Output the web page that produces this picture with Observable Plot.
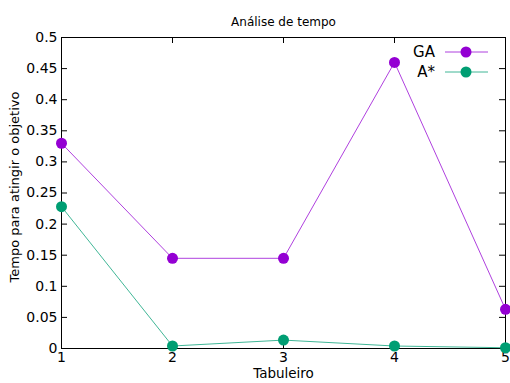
<!DOCTYPE html>
<html>
<head>
<meta charset="utf-8">
<script src="https://cdn.jsdelivr.net/npm/d3@7"></script>
<script src="https://cdn.jsdelivr.net/npm/@observablehq/plot@0.6"></script>
<style>
  html, body { margin: 0; padding: 0; background: #fff; }
  #wrap { position: relative; width: 510px; height: 383px; font-family: "DejaVu Sans", sans-serif; }
  #legend { position: absolute; left: 0; top: 0; width: 510px; height: 383px; pointer-events: none; }
</style>
</head>
<body>
<div id="wrap"></div>
<script>
const tabuleiros = [1, 2, 3, 4, 5];
const gaValues = [0.33, 0.145, 0.145, 0.46, 0.063];
const aStarValues = [0.228, 0.004, 0.0135, 0.004, 0.0012];
const seriesNames = ["GA", "A*"];
const seriesColors = ["#9400d3", "#009e73"];
const yTicks = [0, 0.05, 0.1, 0.15, 0.2, 0.25, 0.3, 0.35, 0.4, 0.45, 0.5];
const xTicks = [1, 2, 3, 4, 5];
const title = "Análise de tempo";
const xLabel = "Tabuleiro";
const yLabel = "Tempo para atingir o objetivo";

const data = [];
tabuleiros.forEach((t, i) => {
  data.push({series: seriesNames[0], x: t, y: gaValues[i]});
  data.push({series: seriesNames[1], x: t, y: aStarValues[i]});
});

const W = 510, H = 383;
const mL = 61, mR = 5, mT = 37, mB = 35;
const fw = W - mL - mR, fh = H - mT - mB;
const tickFmt = d => String(+d.toFixed(2));
const tk = 6;

const chart = Plot.plot({
  width: W, height: H,
  marginLeft: mL, marginRight: mR, marginTop: mT, marginBottom: mB,
  style: {fontFamily: "DejaVu Sans, sans-serif", background: "#fff", overflow: "visible"},
  x: {domain: [1, 5]},
  y: {domain: [0, 0.5]},
  color: {domain: seriesNames, range: seriesColors},
  marks: [
    // tick labels
    Plot.axisY({ticks: yTicks, tickSize: 0, tickPadding: 4, tickFormat: tickFmt, fontSize: 14, fill: "#000", label: null}),
    Plot.axisX({ticks: xTicks, tickSize: 0, tickPadding: 4, tickFormat: d => String(d), fontSize: 14, fill: "#000", label: null}),
    // inward ticks, mirrored on all four sides
    Plot.tickY(yTicks, {y: d => d, insetRight: fw - tk, stroke: "#000"}),
    Plot.tickY(yTicks, {y: d => d, insetLeft: fw - tk, stroke: "#000"}),
    Plot.tickX(xTicks, {x: d => d, insetTop: fh - tk, stroke: "#000"}),
    Plot.tickX(xTicks, {x: d => d, insetBottom: fh - tk, stroke: "#000"}),
    Plot.frame({stroke: "#000", strokeWidth: 1}),
    Plot.line(data, {x: "x", y: "y", z: "series", stroke: "series", strokeWidth: 1, strokeOpacity: 0.75}),
    Plot.dot(data, {x: "x", y: "y", fill: "series", r: 5.5}),
    Plot.text([title], {frameAnchor: "top", dy: -20, fontSize: 12, fill: "#000", text: d => d}),
    Plot.text([xLabel], {frameAnchor: "bottom", dy: 29, fontSize: 13.5, fill: "#000", text: d => d}),
    Plot.text([yLabel], {frameAnchor: "left", textAnchor: "middle", dx: -47, dy: -6, rotate: -90, fontSize: 13, fill: "#000", text: d => d})
  ]
});

const wrap = document.getElementById("wrap");
wrap.appendChild(chart);

// legend overlay
const ns = "http://www.w3.org/2000/svg";
const leg = document.createElementNS(ns, "svg");
leg.setAttribute("id", "legend");
leg.setAttribute("width", W);
leg.setAttribute("height", H);
seriesNames.forEach((name, i) => {
  const cy = 52 + i * 20;
  const t = document.createElementNS(ns, "text");
  t.setAttribute("x", 435);
  t.setAttribute("y", cy);
  t.setAttribute("dy", "0.35em");
  t.setAttribute("text-anchor", "end");
  t.setAttribute("font-size", "15");
  t.setAttribute("font-family", "DejaVu Sans, sans-serif");
  t.textContent = name;
  leg.appendChild(t);
  const l = document.createElementNS(ns, "line");
  l.setAttribute("x1", 445); l.setAttribute("x2", 488);
  l.setAttribute("y1", cy); l.setAttribute("y2", cy);
  l.setAttribute("stroke", seriesColors[i]);
  l.setAttribute("stroke-opacity", 0.75);
  leg.appendChild(l);
  const c = document.createElementNS(ns, "circle");
  c.setAttribute("cx", 466); c.setAttribute("cy", cy); c.setAttribute("r", 5.5);
  c.setAttribute("fill", seriesColors[i]);
  leg.appendChild(c);
});
wrap.appendChild(leg);
</script>
</body>
</html>
